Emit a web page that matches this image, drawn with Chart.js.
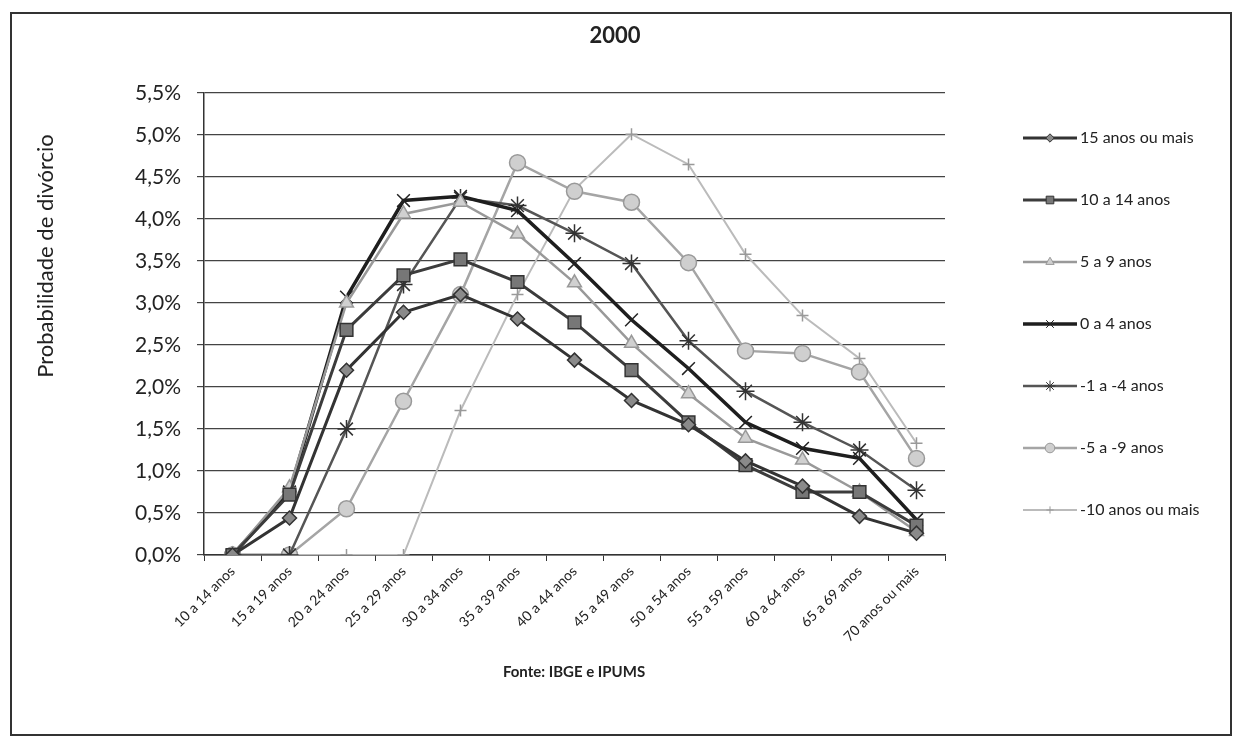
<!DOCTYPE html>
<html>
<head>
<meta charset="utf-8">
<script src="https://cdn.jsdelivr.net/npm/chart.js@4.4.1/dist/chart.umd.min.js"></script>
<style>
  body { margin: 0; background: #fff; }
  #wrap { position: relative; width: 1237px; height: 746px; }
  #frame { position: absolute; left: 10px; top: 12px; width: 1218px; height: 720px; border: 2px solid #333; pointer-events: none; }
</style>
</head>
<body>
<div id="wrap">
  <canvas id="chart" width="1237" height="746"></canvas>
  <div id="frame"></div>
</div>
<script>
// faixas etárias (eixo x)
const faixas = ['10 a 14 anos', '15 a 19 anos', '20 a 24 anos', '25 a 29 anos', '30 a 34 anos',
  '35 a 39 anos', '40 a 44 anos', '45 a 49 anos', '50 a 54 anos', '55 a 59 anos',
  '60 a 64 anos', '65 a 69 anos', '70 anos ou mais'];

// probabilidade de divórcio (%) por diferença de idade
const dif15mais = [0, 0.44, 2.20, 2.89, 3.10, 2.81, 2.32, 1.84, 1.55, 1.12, 0.82, 0.46, 0.26];
const dif10a14  = [0, 0.72, 2.68, 3.33, 3.52, 3.25, 2.77, 2.20, 1.58, 1.07, 0.75, 0.75, 0.35];
const dif5a9    = [0, 0.80, 3.00, 4.06, 4.20, 3.82, 3.24, 2.52, 1.92, 1.39, 1.13, 0.75, 0.28];
const dif0a4    = [0, 0.75, 3.07, 4.22, 4.27, 4.10, 3.47, 2.80, 2.22, 1.58, 1.27, 1.15, 0.42];
const difM1aM4  = [0, 0, 1.50, 3.22, 4.25, 4.16, 3.83, 3.47, 2.55, 1.95, 1.58, 1.25, 0.77];
const difM5aM9  = [0, 0, 0.55, 1.83, 3.10, 4.67, 4.33, 4.20, 3.48, 2.43, 2.40, 2.18, 1.15];
const difM10    = [0, 0, 0, 0, 1.72, 3.10, 4.35, 5.01, 4.65, 3.58, 2.85, 2.34, 1.33];

const yMax = 5.5;
const yStep = 0.5;

Chart.defaults.font.family = 'Lato, "Noto Sans", sans-serif';
Chart.defaults.color = '#222';

function serie(label, data, line, width, style, radius, fill, border) {
  return {
    label: label, data: data,
    borderColor: line, borderWidth: width,
    pointStyle: style, pointRadius: radius,
    pointBackgroundColor: fill, pointBorderColor: border, pointBorderWidth: 1.5,
    tension: 0, fill: false
  };
}

const datasets = [
  serie('15 anos ou mais', dif15mais, '#333', 3, 'rectRot', 7, '#8a8a8a', '#333'),
  serie('10 a 14 anos', dif10a14, '#3c3c3c', 3, 'rect', 9, '#777', '#333'),
  serie('5 a 9 anos', dif5a9, '#999', 2.5, 'triangle', 8, '#d0d0d0', '#999'),
  serie('0 a 4 anos', dif0a4, '#1e1e1e', 3.5, 'crossRot', 9, '#222', '#222'),
  serie('-1 a -4 anos', difM1aM4, '#555', 2.5, 'star', 9, '#444', '#333'),
  serie('-5 a -9 anos', difM5aM9, '#a5a5a5', 2.5, 'circle', 8, '#cfcfcf', '#999'),
  serie('-10 anos ou mais', difM10, '#bbb', 2, 'cross', 6, '#aaa', '#999')
];

// textos fixos + legenda à direita
const extras = {
  id: 'extras',
  afterDraw(chart) {
    const ctx = chart.ctx;
    ctx.save();
    ctx.fillStyle = '#222';
    ctx.textAlign = 'center';
    ctx.textBaseline = 'middle';
    ctx.font = 'bold 22px Lato, sans-serif';
    ctx.fillText('2000', 615, 36);

    ctx.font = 'bold 15px Lato, sans-serif';
    ctx.fillText('Fonte: IBGE e IPUMS', 574, 672);

    ctx.save();
    ctx.translate(46, 256);
    ctx.rotate(-Math.PI / 2);
    ctx.font = '22px Lato, sans-serif';
    ctx.fillText('Probabilidade de divórcio', 0, 0);
    ctx.restore();

    // legenda
    chart.data.datasets.forEach((ds, i) => {
      const y = 138 + i * 62;
      ctx.strokeStyle = ds.borderColor;
      ctx.lineWidth = ds.borderWidth;
      ctx.beginPath();
      ctx.moveTo(1023, y);
      ctx.lineTo(1077, y);
      ctx.stroke();
      ctx.fillStyle = ds.pointBackgroundColor;
      ctx.strokeStyle = ds.pointBorderColor;
      ctx.lineWidth = 1;
      Chart.helpers.drawPoint(ctx, { pointStyle: ds.pointStyle, radius: ds.pointRadius * 0.6, rotation: 0, borderWidth: 1 }, 1050, y);
      ctx.fillStyle = '#222';
      ctx.textAlign = 'left';
      ctx.font = '16px Lato, sans-serif';
      ctx.fillText(ds.label, 1080, y);
    });
    ctx.restore();
  }
};

new Chart(document.getElementById('chart'), {
  type: 'line',
  data: { labels: faixas, datasets: datasets },
  options: {
    responsive: false,
    animation: false,
    layout: { padding: { left: 30, right: 292, top: 93, bottom: 0 } },
    plugins: { legend: { display: false }, tooltip: { enabled: false } },
    scales: {
      x: {
        offset: true,
        grid: { offset: true, drawOnChartArea: false, color: '#333', tickLength: 6 },
        border: { color: '#333', width: 1.5 },
        ticks: { font: { size: 14 }, maxRotation: 45, minRotation: 45, autoSkip: false, padding: 2 },
        afterFit(scale) { scale.height = 191; }
      },
      y: {
        min: 0, max: yMax,
        grid: { color: '#444', lineWidth: 1.2, tickLength: 7 },
        border: { color: '#333', width: 1.5 },
        ticks: {
          stepSize: yStep, padding: 16, font: { size: 21 },
          callback: v => v.toFixed(1).replace('.', ',') + '%'
        },
        afterFit(scale) { scale.width = 174; }
      }
    }
  },
  plugins: [extras]
});
</script>
</body>
</html>
